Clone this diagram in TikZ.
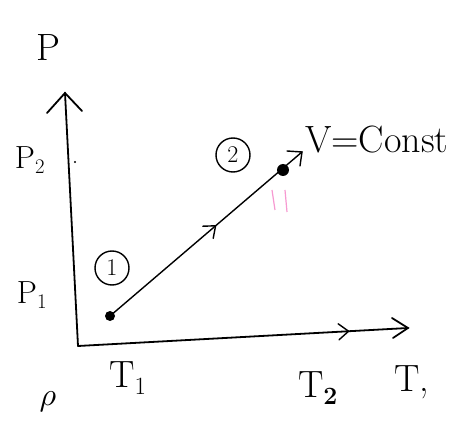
\documentclass[tikz,border=0pt]{standalone}
\usetikzlibrary{decorations.markings}
\begin{document}
\begin{tikzpicture}[x=1pt,y=-1pt,
  axis/.style={line width=1.8pt,line cap=round},
  hand/.style={line width=1.4pt,line cap=round},
  lbl/.style={font=\fontsize{38}{42}\selectfont},
  slbl/.style={font=\fontsize{32}{36}\selectfont},
  circnum/.style={draw,circle,line width=1.4pt,inner sep=2pt,minimum size=34pt,font=\fontsize{24}{26}\selectfont},
  midarrow/.style={postaction={decorate},decoration={markings,mark=at position #1 with {\draw[hand,line width=1.4pt] (-10,-8) -- (0,0) -- (-10,8);}}}
]
\useasboundingbox (0,0) rectangle (475,428);
\fill[white] (0,0) rectangle (475,428);
% axes
\coordinate (O) at (78,346);
\coordinate (Ytop) at (65,93);
\coordinate (Xend) at (408,328);
\draw[axis] (O) -- (Ytop);
\draw[axis] (Ytop) ++(-18,20) -- (Ytop) -- ++(17,18);
\draw[axis,midarrow=0.82] (O) -- (Xend);
\draw[axis] (Xend) ++(-16,-10) -- (Xend) -- ++(-15,10);
% process line
\coordinate (p1) at (110,316);
\coordinate (p2) at (285,168);
\coordinate (ptip) at (302,152);
\draw[hand,midarrow=0.55] (p1) -- (ptip);
\draw[hand] (ptip) ++(-15,-1) -- (ptip) -- ++(-2,14);
\fill (p1) circle (5pt);
\fill (p2) ++(-2,2) circle (6pt);
\node[circnum] (c1) at (112,268) {1};
\node[circnum] (c2) at (233,155) {2};
% pink marks
\draw[magenta!40,line width=1.2pt] (272,190) -- (275,210);
\draw[magenta!40,line width=1.2pt] (285,190) -- (287,212);
% labels
\node[lbl] (P) at (48,48) {P};
\node[slbl] (P2) at (30,160) {P$_2$};
\fill (75,162) circle (1.2pt);
\node[slbl] (P1) at (32,295) {P$_1$};
\node[lbl] (T1) at (128,378) {T$_1$};
\node[lbl] (T2) at (318,388) {T$_{\mathbf 2}$};
\node[lbl] (T) at (412,382) {T,};
\node (rho) at (48,402) {\scalebox{3.2}{$\rho$}};
\node[lbl,anchor=west,inner sep=0pt] (V) at (305,140) {V=Const};
\end{tikzpicture}
\end{document}
